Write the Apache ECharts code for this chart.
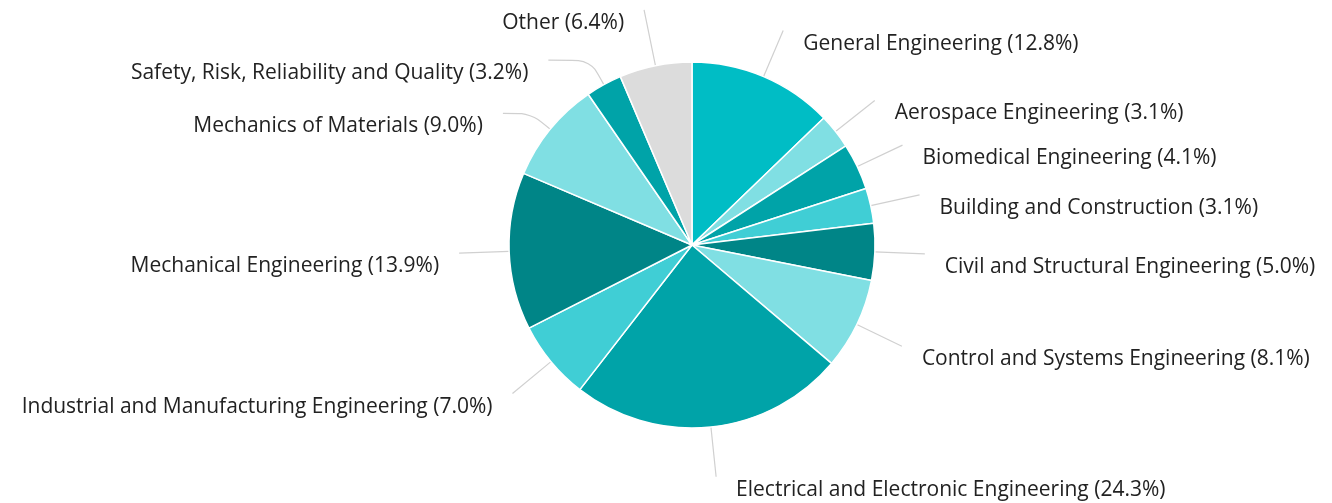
<!DOCTYPE html>
<html>
<head>
<meta charset="utf-8">
<script src="https://cdn.jsdelivr.net/npm/echarts@6/dist/echarts.min.js"></script>
<style>
  html, body { margin: 0; padding: 0; background: #fff; }
  #chart { width: 1332px; height: 503px; }
</style>
</head>
<body>
<div id="chart"></div>
<script>
!function () {
    // subject areas, clockwise from the top
    const categories = [
        'General Engineering',
        'Aerospace Engineering',
        'Biomedical Engineering',
        'Building and Construction',
        'Civil and Structural Engineering',
        'Control and Systems Engineering',
        'Electrical and Electronic Engineering',
        'Industrial and Manufacturing Engineering',
        'Mechanical Engineering',
        'Mechanics of Materials',
        'Safety, Risk, Reliability and Quality',
        'Other'
    ];
    const shares = [12.8, 3.1, 4.1, 3.1, 5.0, 8.1, 24.3, 7.0, 13.9, 9.0, 3.2, 6.4];
    const colors = [
        '#00bdc5', '#80dfe3', '#00a3a8', '#40ced5', '#008587', '#80dfe3',
        '#00a3a8', '#40ced5', '#008587', '#80dfe3', '#00a3a8', '#dcdcdc'
    ];

    // a few leader lines bend sideways in the original
    const leaderTweaks = {
        'Mechanics of Materials': { length: 25, length2: 28 },
        'Safety, Risk, Reliability and Quality': { length: 28, length2: 42 },
        'Other': { length: 57, length2: 0 }
    };

    let option = {
        animation: false,
        series: [
            {
                type: 'pie',
                center: [692, 245],
                radius: 183,
                startAngle: 90,
                clockwise: true,
                avoidLabelOverlap: false,
                itemStyle: {
                    borderColor: '#fff',
                    borderWidth: 1.5
                },
                label: {
                    show: true,
                    color: '#222',
                    fontFamily: 'Open Sans',
                    fontSize: 21,
                    distanceToLabelLine: 20,
                    formatter: function (p) {
                        return p.name + ' (' + p.value.toFixed(1) + '%)';
                    }
                },
                labelLine: {
                    show: true,
                    length: 50,
                    length2: 0,
                    smooth: true,
                    lineStyle: { color: '#d0d0d0', width: 1.2 }
                },
                // text sits a little below the end of its leader line
                labelLayout: function () {
                    return { dy: 13 };
                },
                data: categories.map(function (name, i) {
                    let item = { name: name, value: shares[i], itemStyle: { color: colors[i] } };
                    if (leaderTweaks[name]) {
                        item.labelLine = leaderTweaks[name];
                    }
                    return item;
                })
            }
        ]
    };

    let myChart = echarts.init(document.getElementById('chart'));
    myChart && myChart.setOption(option);
}()
</script>
</body>
</html>
